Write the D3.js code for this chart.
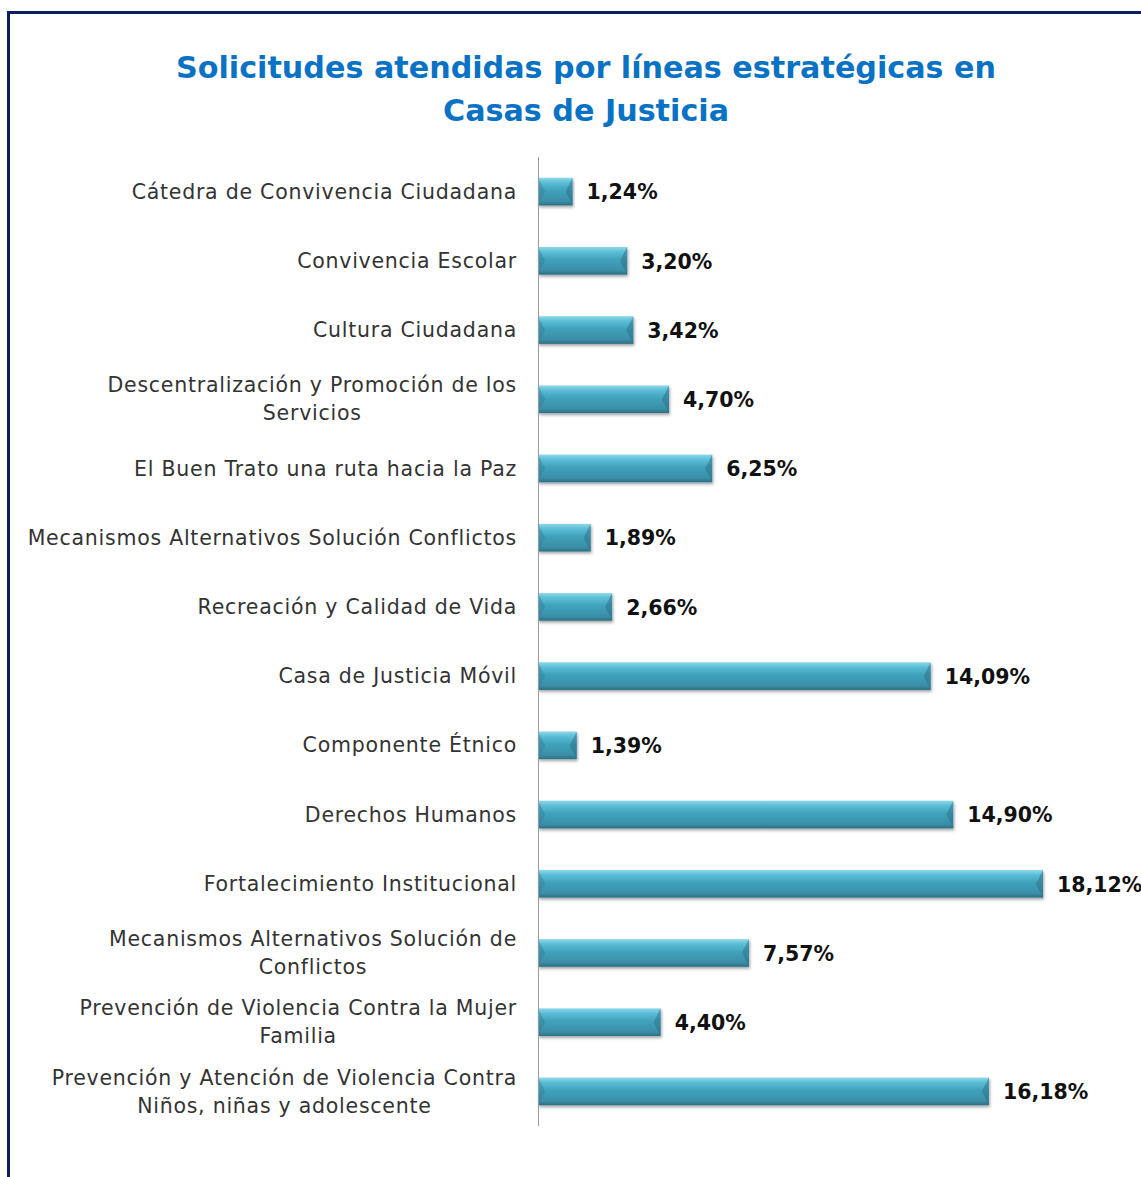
<!DOCTYPE html>
<html>
<head>
<meta charset="utf-8">
<script src="https://cdn.jsdelivr.net/npm/d3@7"></script>
<style>
  body { margin: 0; background: #fff; }
  svg { display: block; }
</style>
</head>
<body>
<script>
// chart data
var categories = [
  ["Cátedra de Convivencia Ciudadana"],
  ["Convivencia Escolar"],
  ["Cultura Ciudadana"],
  ["Descentralización y Promoción de los", "Servicios"],
  ["El Buen Trato una ruta hacia la Paz"],
  ["Mecanismos Alternativos Solución Conflictos"],
  ["Recreación y Calidad de Vida"],
  ["Casa de Justicia Móvil"],
  ["Componente Étnico"],
  ["Derechos Humanos"],
  ["Fortalecimiento Institucional"],
  ["Mecanismos Alternativos Solución de", "Conflictos"],
  ["Prevención de Violencia Contra la Mujer", "Familia"],
  ["Prevención y Atención de Violencia Contra", "Niños, niñas y adolescente"]
];

var values = [1.24, 3.20, 3.42, 4.70, 6.25, 1.89, 2.66, 14.09, 1.39, 14.90, 18.12, 7.57, 4.40, 16.18];

var valueLabels = ["1,24%", "3,20%", "3,42%", "4,70%", "6,25%", "1,89%", "2,66%",
                   "14,09%", "1,39%", "14,90%", "18,12%", "7,57%", "4,40%", "16,18%"];

var titleLines = ["Solicitudes atendidas por líneas estratégicas en", "Casas de Justicia"];

var w = 1141;
var h = 1177;

var axisX = 538;
var labelRight = 517;

var svg = d3.select("body")
            .append("svg")
            .attr("width", w)
            .attr("height", h);

var defs = svg.append("defs");

// bar gradient (glossy cylinder look)
var grad = defs.append("linearGradient")
               .attr("id", "barGrad")
               .attr("x1", 0).attr("y1", 0)
               .attr("x2", 0).attr("y2", 1);
grad.append("stop").attr("offset", "0%").attr("stop-color", "#8ed8ea");
grad.append("stop").attr("offset", "18%").attr("stop-color", "#5bbdd6");
grad.append("stop").attr("offset", "45%").attr("stop-color", "#41a2bc");
grad.append("stop").attr("offset", "85%").attr("stop-color", "#3a8ea6");
grad.append("stop").attr("offset", "100%").attr("stop-color", "#2b6f84");

var shadow = defs.append("filter")
                 .attr("id", "shadow")
                 .attr("x", "-5%").attr("y", "-30%")
                 .attr("width", "110%").attr("height", "170%");
shadow.append("feDropShadow")
      .attr("dx", 1).attr("dy", 2)
      .attr("stdDeviation", 1.6)
      .attr("flood-color", "#000")
      .attr("flood-opacity", 0.35);

// frame
svg.append("rect")
   .attr("x", 8.5)
   .attr("y", 12.5)
   .attr("width", 1300)
   .attr("height", 1300)
   .attr("fill", "none")
   .attr("stroke", "#0b1f5e")
   .attr("stroke-width", 3);

// title
svg.selectAll(".title")
   .data(titleLines)
   .enter()
   .append("text")
   .attr("class", "title")
   .attr("x", 586)
   .attr("y", function(d, i) { return 78 + i * 43; })
   .attr("text-anchor", "middle")
   .attr("font-family", "DejaVu Sans")
   .attr("font-weight", "bold")
   .attr("font-size", "30.2px")
   .attr("fill", "#0a72c4")
   .text(function(d) { return d; });

// scales
var yScale = d3.scaleBand()
               .domain(d3.range(categories.length))
               .range([157, 1126])
               .paddingInner(0.6)
               .paddingOuter(0.3);

var xScale = d3.scaleLinear()
               .domain([0, 18.12])
               .range([axisX, 1043]);

// bars
var bars = svg.selectAll(".bar")
              .data(values)
              .enter()
              .append("g")
              .attr("class", "bar")
              .attr("filter", "url(#shadow)");

bars.append("rect")
    .attr("x", xScale(0))
    .attr("y", function(d, i) { return yScale(i); })
    .attr("width", function(d) { return xScale(d) - xScale(0); })
    .attr("height", yScale.bandwidth())
    .attr("fill", "url(#barGrad)");

// bevel facets on both ends
var bev = 7;
bars.append("path")
    .attr("d", function(d, i) {
      var x0 = xScale(0), y0 = yScale(i), hh = yScale.bandwidth();
      return "M" + x0 + "," + y0 + "L" + (x0 + bev) + "," + (y0 + hh / 2) + "L" + x0 + "," + (y0 + hh) + "Z";
    })
    .attr("fill", "#2f7f96")
    .attr("opacity", 0.45);

bars.append("path")
    .attr("d", function(d, i) {
      var x1 = xScale(d), y0 = yScale(i), hh = yScale.bandwidth();
      return "M" + x1 + "," + y0 + "L" + (x1 - bev) + "," + (y0 + hh / 2) + "L" + x1 + "," + (y0 + hh) + "Z";
    })
    .attr("fill", "#2a6f85")
    .attr("opacity", 0.5);

// axis line
svg.append("line")
   .attr("x1", axisX + 0.5)
   .attr("x2", axisX + 0.5)
   .attr("y1", 157)
   .attr("y2", 1126)
   .attr("stroke", "#9a9a9a")
   .attr("stroke-width", 1);

// value labels
svg.selectAll(".val")
   .data(values)
   .enter()
   .append("text")
   .attr("class", "val")
   .attr("x", function(d) { return xScale(d) + 14; })
   .attr("y", function(d, i) { return yScale(i) + yScale.bandwidth() / 2; })
   .attr("dy", "0.38em")
   .attr("font-family", "DejaVu Sans")
   .attr("font-weight", "bold")
   .attr("font-size", "20.5px")
   .attr("fill", "#111")
   .text(function(d, i) { return valueLabels[i]; });

// category labels, multi-line blocks right aligned, lines centered
var lineH = 28;
categories.forEach(function(lines, i) {
  var g = svg.append("g").attr("class", "cat");
  var cy = yScale(i) + yScale.bandwidth() / 2;
  var texts = g.selectAll("text")
               .data(lines)
               .enter()
               .append("text")
               .attr("font-family", "DejaVu Sans")
               .attr("font-size", "20.5px")
               .attr("letter-spacing", "0.75px")
               .attr("fill", "#333")
               .attr("text-anchor", "middle")
               .attr("y", function(d, j) { return cy + (j - (lines.length - 1) / 2) * lineH; })
               .attr("dy", "0.35em")
               .text(function(d) { return d; });
  var maxW = 0;
  texts.each(function() { maxW = Math.max(maxW, this.getComputedTextLength()); });
  texts.attr("x", labelRight - maxW / 2);
});
</script>
</body>
</html>
